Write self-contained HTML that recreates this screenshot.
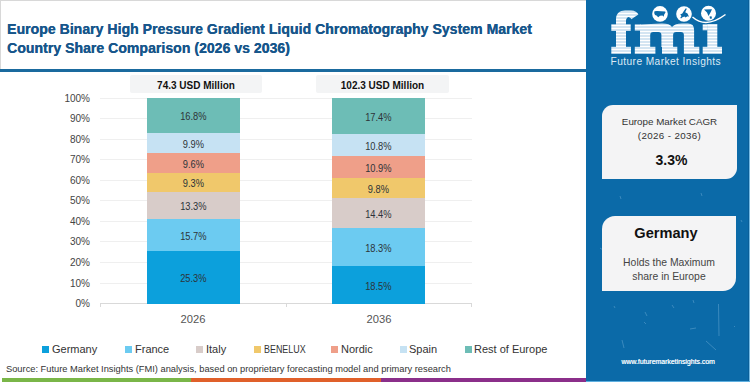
<!DOCTYPE html>
<html><head><meta charset="utf-8">
<style>
*{margin:0;padding:0;box-sizing:border-box}
html,body{width:750px;height:382px;overflow:hidden;background:#fff}
body{position:relative;font-family:"Liberation Sans",sans-serif;color:#333}
.abs{position:absolute;white-space:nowrap}
.title{left:7px;color:#17568b;font-weight:700;font-size:14px;letter-spacing:0.05px;line-height:19px;text-shadow:0.3px 0 0 #17568b}
.grid{position:absolute;left:100px;width:372px;height:1px;background:#efefef}
.ylab{position:absolute;left:41px;padding-top:1px;width:49px;text-align:right;font-size:10px;color:#444;line-height:12px}
.seg{position:absolute;display:flex;align-items:center;justify-content:center;font-size:10.8px;color:#2d3339;padding-top:1.5px}
.seg span{display:inline-block;transform:scaleX(0.86)}
.lg{position:absolute;top:346px;height:7px;width:7px}
.lt{position:absolute;top:342.5px;font-size:11px;color:#333;line-height:13px;white-space:nowrap}
.card{position:absolute;background:#f4f4f5;border-radius:13px 0 13px 0;text-align:center}
</style></head><body>
<!-- top/left borders -->
<div class="abs" style="left:0;top:0;width:586px;height:1px;background:#d8d8d8"></div>
<div class="abs" style="left:0;top:0;width:1px;height:69px;background:#d8d8d8"></div>
<!-- title -->
<div class="abs title" style="top:19.5px">Europe Binary High Pressure Gradient Liquid Chromatography System Market</div>
<div class="abs title" style="top:38.5px">Country Share Comparison (2026 vs 2036)</div>
<!-- blue rule -->
<div class="abs" style="left:0;top:69px;width:586px;height:3px;background:#1a6a9e"></div>

<!-- chart -->
<div class="grid" style="top:98px"></div>
<div class="grid" style="top:118px"></div>
<div class="grid" style="top:139px"></div>
<div class="grid" style="top:159px"></div>
<div class="grid" style="top:180px"></div>
<div class="grid" style="top:200px"></div>
<div class="grid" style="top:221px"></div>
<div class="grid" style="top:241px"></div>
<div class="grid" style="top:262px"></div>
<div class="grid" style="top:283px"></div>
<div class="abs" style="left:100px;top:303px;width:372px;height:1px;background:#d9d9d9"></div>
<div class="abs" style="left:100px;top:303px;width:1px;height:4px;background:#d9d9d9"></div>
<div class="abs" style="left:286px;top:303px;width:1px;height:4px;background:#d9d9d9"></div>
<div class="abs" style="left:471px;top:303px;width:1px;height:4px;background:#d9d9d9"></div>

<div class="ylab" style="top:92px">100%</div>
<div class="ylab" style="top:112px">90%</div>
<div class="ylab" style="top:133px">80%</div>
<div class="ylab" style="top:153px">70%</div>
<div class="ylab" style="top:174px">60%</div>
<div class="ylab" style="top:194px">50%</div>
<div class="ylab" style="top:215px">40%</div>
<div class="ylab" style="top:235px">30%</div>
<div class="ylab" style="top:256px">20%</div>
<div class="ylab" style="top:277px">10%</div>
<div class="ylab" style="top:297px">0%</div>

<!-- bar 1 labels -->
<div class="abs" style="left:130px;top:75px;width:132px;height:18px;background:#f3f4f5;border-radius:2px"></div>
<div class="abs" style="left:130px;top:76px;width:132px;height:19px;line-height:19px;text-align:center;font-size:10px;font-weight:700;color:#111">74.3 USD Million</div>
<div class="abs" style="left:316px;top:75px;width:133px;height:18px;background:#f3f4f5;border-radius:2px"></div>
<div class="abs" style="left:316px;top:76px;width:133px;height:19px;line-height:19px;text-align:center;font-size:10px;font-weight:700;color:#111">102.3 USD Million</div>

<!-- bar 1 -->
<div class="seg" style="left:147px;width:93px;top:98px;height:35px;background:#6dbdb6"><span>16.8%</span></div>
<div class="seg" style="left:147px;width:93px;top:133px;height:20px;background:#c6e2f3"><span>9.9%</span></div>
<div class="seg" style="left:147px;width:93px;top:153px;height:20px;background:#ef9f89"><span>9.6%</span></div>
<div class="seg" style="left:147px;width:93px;top:173px;height:19px;background:#f0c86b"><span>9.3%</span></div>
<div class="seg" style="left:147px;width:93px;top:192px;height:27px;background:#d8ccc9"><span>13.3%</span></div>
<div class="seg" style="left:147px;width:93px;top:219px;height:32px;background:#6ccbf1"><span>15.7%</span></div>
<div class="seg" style="left:147px;width:93px;top:251px;height:53px;background:#0ca0dc"><span>25.3%</span></div>

<!-- bar 2 -->
<div class="seg" style="left:332px;width:93px;top:98px;height:36px;background:#6dbdb6"><span>17.4%</span></div>
<div class="seg" style="left:332px;width:93px;top:134px;height:22px;background:#c6e2f3"><span>10.8%</span></div>
<div class="seg" style="left:332px;width:93px;top:156px;height:22px;background:#ef9f89"><span>10.9%</span></div>
<div class="seg" style="left:332px;width:93px;top:178px;height:20px;background:#f0c86b"><span>9.8%</span></div>
<div class="seg" style="left:332px;width:93px;top:198px;height:30px;background:#d8ccc9"><span>14.4%</span></div>
<div class="seg" style="left:332px;width:93px;top:228px;height:38px;background:#6ccbf1"><span>18.3%</span></div>
<div class="seg" style="left:332px;width:93px;top:266px;height:38px;background:#0ca0dc"><span>18.5%</span></div>

<div class="abs" style="left:143px;top:313px;width:100px;text-align:center;font-size:11.2px;color:#555">2026</div>
<div class="abs" style="left:329px;top:313px;width:100px;text-align:center;font-size:11.2px;color:#555">2036</div>

<!-- legend -->
<div class="lg" style="left:42px;background:#0ca0dc"></div><div class="lt" style="left:52px">Germany</div>
<div class="lg" style="left:125px;background:#6ccbf1"></div><div class="lt" style="left:135px">France</div>
<div class="lg" style="left:196px;background:#d8ccc9"></div><div class="lt" style="left:206px">Italy</div>
<div class="lg" style="left:254px;background:#f0c86b"></div><div class="lt" style="left:264px;transform:scaleX(0.81);transform-origin:0 0">BENELUX</div>
<div class="lg" style="left:331px;background:#ef9f89"></div><div class="lt" style="left:341px">Nordic</div>
<div class="lg" style="left:400px;background:#c6e2f3"></div><div class="lt" style="left:409px">Spain</div>
<div class="lg" style="left:465px;background:#6dbdb6"></div><div class="lt" style="left:474px">Rest of Europe</div>

<!-- source -->
<div class="abs" style="left:6px;top:364px;font-size:9.3px;color:#333;line-height:11px">Source: Future Market Insights (FMI) analysis, based on proprietary forecasting model and primary research</div>

<!-- bottom bars -->
<div class="abs" style="left:2px;top:378px;width:189px;height:4px;background:#7ab648"></div>
<div class="abs" style="left:191px;top:378px;width:190px;height:4px;background:#e0602a"></div>
<div class="abs" style="left:381px;top:378px;width:205px;height:4px;background:#8b2f8a"></div>

<!-- right panel -->
<div class="abs" style="left:586px;top:0;width:164px;height:382px;background:#0b6aa8"></div>
<div class="abs" style="left:748px;top:0;width:1px;height:382px;background:#0a5f99"></div>
<div class="abs" style="left:749px;top:0;width:1px;height:382px;background:#74b9e3"></div>
<svg class="abs" style="left:586px;top:180px" width="162" height="200" viewBox="586 180 162 200">
<g stroke="#8fc3e6" stroke-width="0.8" opacity="0.45" fill="none">
<path d="M718.5,304 L719,336"/>
<path d="M690,329 L696,328"/>
<path d="M622,340 L624,348"/>
<path d="M706,341 L716,350"/>
<path d="M614,306 L615,308"/>
<path d="M645,312 L647,316"/>
<path d="M672,305 L674,308"/>
<path d="M693,300 L694,303"/>
<path d="M734,326 L735,327"/>
<path d="M600,248 L603,250"/>
<path d="M741,220 L742,222"/>
<path d="M620,196 L621,199"/>
<path d="M701,193 L702,196"/>
<path d="M644,322 L646,324"/>
</g>
</svg>
<div class="abs" style="left:586px;top:381px;width:164px;height:1px;background:#5fb0e0"></div>

<div class="card" style="left:602px;top:105px;width:135px;height:74px;border-radius:11px 0 11px 0"></div>
<div class="abs" style="left:602px;top:115px;width:135px;text-align:center;font-size:9.8px;color:#333;line-height:14px">Europe Market CAGR</div>
<div class="abs" style="left:602px;top:129px;width:135px;text-align:center;font-size:9.8px;color:#333;line-height:14px;letter-spacing:0.35px">(2026 - 2036)</div>
<div class="abs" style="left:604px;top:152px;width:135px;text-align:center;font-size:14px;font-weight:700;color:#111;line-height:16px">3.3%</div>

<div class="card" style="left:602px;top:216px;width:134px;height:75px"></div>
<div class="abs" style="left:599px;top:225px;width:134px;text-align:center;font-size:14.6px;font-weight:700;color:#111;line-height:17px">Germany</div>
<div class="abs" style="left:602px;top:256px;width:134px;text-align:center;font-size:10.4px;color:#444;line-height:13.5px">Holds the Maximum<br>share in Europe</div>

<div class="abs" style="left:586px;top:358px;width:164px;text-align:center;font-size:6.9px;color:#eef5fb;text-shadow:0.35px 0 0 #eef5fb">www.futuremarketinsights.com</div>

<!-- logo -->
<svg class="abs" style="left:586px;top:0" width="164" height="80" viewBox="586 0 164 80">
<defs>
<pattern id="stripes" x="0" y="0.5" width="4" height="3" patternUnits="userSpaceOnUse">
<rect x="0" y="0" width="4" height="2" fill="#fff"/>
<rect x="0" y="2" width="4" height="1" fill="#a9cbe5"/>
</pattern>
</defs>
<g fill="url(#stripes)">
<path d="M616,47 L616,19 C616,13.5 619.5,10.4 625,10.4 L631,10.4 C635,10.4 637.5,12.5 638.4,14.4 C636,16 633,18 631.4,19.2 C630.5,18 629.5,17 628.5,17 C627,17.5 626,19 626,21 L626,47 Z"/>
<rect x="611.3" y="24.3" width="19.4" height="6.6"/>
<rect x="611.3" y="46.8" width="19.7" height="7"/>
<rect x="634.8" y="24.4" width="6" height="6.2"/>
<path d="M640,47 L640,24.4 L662,23.6 Q670,23.6 672,27 Q675,23.6 682,23.6 L688,23.6 Q694.1,23.6 694.1,30 L694.1,47 L683.9,47 L683.9,35 Q683.9,32 680.9,32 L676.1,32 Q673.1,32 673.1,35 L673.1,47 L661.4,47 L661.4,35 Q661.4,32 658.4,32 L653.2,32 Q650.2,32 650.2,35 L650.2,47 Z"/>
<rect x="634.8" y="46.8" width="20.6" height="7"/>
<rect x="662" y="46.8" width="15.3" height="7"/>
<rect x="683.9" y="46.8" width="15.4" height="7"/>
<rect x="702.7" y="24.3" width="5" height="6"/>
<rect x="707.3" y="24" width="10" height="23"/>
<rect x="702.7" y="46.8" width="19.3" height="7"/>
</g>
<circle cx="660" cy="13.9" r="7.8" fill="#fff"/>
<circle cx="684" cy="14" r="7.8" fill="#fff"/>
<circle cx="708.5" cy="13.2" r="7.5" fill="#fff"/>
<path d="M654.5,11.3 L657,11 L665.2,11.4 L665.5,12.5 L664.2,14.5 L663.6,16.8 L662.5,15.6 L660,15.8 L658.2,17.2 L656.5,15.6 L655,15 L654.2,13 Z" fill="#0b6aa8"/>
<path d="M685.8,8.3 L686.8,8.8 L685.2,12.2 L687.5,13.5 L689,16.8 L687.5,16.2 L685.5,17.5 L684.5,16.5 L682.5,17.2 L681,18.6 L680.3,17.8 L681.5,16 L680.2,14.6 L682.3,13.6 L683.5,11.5 Z" fill="#0b6aa8"/>
<path d="M704,9.5 L712,9.2 L710.5,12.5 L708.5,16 L707,12.5 Z" fill="#0b6aa8"/>
<path d="M709.5,16.5 L711.5,16.2 L712,18.5 L710,18.8 Z" fill="#0b6aa8"/>
<path d="M692.5,17 Q706,29 725.5,14.5" stroke="#fff" stroke-width="1.5" fill="none"/>
</svg>
<div class="abs" style="left:610.5px;top:56px;font-size:10.2px;color:#dce9f4;letter-spacing:0.42px">Future Market Insights</div>
</body></html>
